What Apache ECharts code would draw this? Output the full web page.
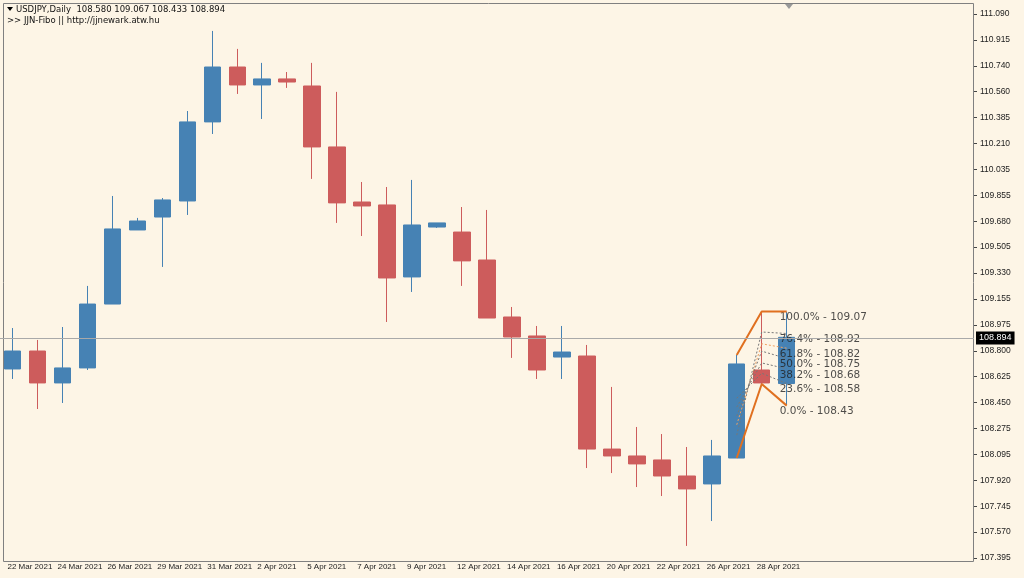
<!DOCTYPE html>
<html><head><meta charset="utf-8">
<script src="https://cdn.jsdelivr.net/npm/echarts@6/dist/echarts.min.js"></script>
<style>html,body{margin:0;padding:0;background:#fdf5e6}#c{width:1024px;height:578px}</style>
</head><body><div id="c"></div>
<script>
const dates=["22 Mar 2021","23 Mar 2021","24 Mar 2021","25 Mar 2021","26 Mar 2021","28 Mar 2021","29 Mar 2021","30 Mar 2021","31 Mar 2021","1 Apr 2021","2 Apr 2021","4 Apr 2021","5 Apr 2021","6 Apr 2021","7 Apr 2021","8 Apr 2021","9 Apr 2021","11 Apr 2021","12 Apr 2021","13 Apr 2021","14 Apr 2021","15 Apr 2021","16 Apr 2021","19 Apr 2021","20 Apr 2021","21 Apr 2021","22 Apr 2021","23 Apr 2021","26 Apr 2021","27 Apr 2021","28 Apr 2021","29 Apr 2021"];
const opens =[108.679,108.801,108.584,108.686,109.120,109.623,109.711,109.820,110.357,110.730,110.608,110.649,110.601,110.187,109.813,109.793,109.304,109.643,109.609,109.419,109.032,108.903,108.760,108.767,108.135,108.088,108.061,107.952,107.898,108.074,108.672,108.580];
const closes=[108.801,108.584,108.686,109.120,109.630,109.684,109.827,110.357,110.730,110.608,110.649,110.628,110.187,109.807,109.786,109.297,109.657,109.671,109.413,109.025,108.896,108.672,108.794,108.135,108.088,108.034,107.952,107.864,108.088,108.713,108.584,108.894];
const lows  =[108.611,108.407,108.448,108.672,109.120,109.623,109.372,109.725,110.275,110.547,110.377,110.588,109.970,109.671,109.582,108.998,109.202,109.637,109.243,109.025,108.754,108.611,108.611,108.006,107.972,107.877,107.816,107.477,107.646,108.074,108.577,108.433];
const highs =[108.957,108.876,108.964,109.243,109.854,109.705,109.840,110.431,110.975,110.853,110.758,110.696,110.758,110.561,109.949,109.915,109.963,109.671,109.779,109.759,109.100,108.971,108.971,108.842,108.557,108.285,108.237,108.149,108.197,108.774,109.070,109.067];
const yTicks=["107.395","107.570","107.745","107.920","108.095","108.275","108.450","108.625","108.800","108.975","109.155","109.330","109.505","109.680","109.855","110.035","110.210","110.385","110.560","110.740","110.915","111.090"];
const fiboLevels=[109.07,108.92,108.82,108.75,108.68,108.58,108.43];
const fiboNames=["100.0%","76.4%","61.8%","50.0%","38.2%","23.6%","0.0%"];
const fanStart=[108.23,108.30,108.36,108.42,108.48];
const fanMid=[108.93,108.85,108.80,108.72,108.65];
const lastPrice=108.894;

const pad=7;
const cats=dates.concat(Array(pad).fill(""));
const ohlc=opens.map((o,i)=>[o,closes[i],lows[i],highs[i]]);
const yMin=107.395,yMax=111.09,yInt=(yMax-yMin)/21;
const font='Liberation Sans';
const series=[{
 type:'candlestick',data:ohlc,barWidth:17,clip:true,
 itemStyle:{color:'#4682b4',color0:'#cd5c5c',borderColor:'#4682b4',borderColor0:'#cd5c5c',borderWidth:1},
 markLine:{silent:true,symbol:'none',lineStyle:{color:'#a9a9a9',type:'solid',width:1},
   label:{position:'end',distance:2,formatter:lastPrice.toFixed(3),backgroundColor:'#000',color:'#fff',fontSize:9,fontFamily:font,padding:[2,3]},
   data:[{yAxis:lastPrice}]}
}];
series.push({type:'line',data:[[29,highs[29]],[30,fiboLevels[0]],[31,fiboLevels[0]]],symbol:'none',lineStyle:{color:'#e07020',width:2}});
series.push({type:'line',data:[[29,lows[29]],[30,lows[30]],[31,fiboLevels[6]]],symbol:'none',lineStyle:{color:'#e07020',width:2}});
for(let i=0;i<5;i++){
 series.push({type:'line',data:[[29,fanStart[i]],[30,fanMid[i]],[31,fiboLevels[i+1]]],symbol:'none',
  lineStyle:{color:i==1?'#f0a060':'#777',width:1,type:[2,2]}});
}
series.push({type:'scatter',symbolSize:0,data:fiboLevels.map((v,i)=>[31,v,fiboNames[i]+' - '+v.toFixed(2)]),
 label:{show:true,position:'right',distance:0,offset:[-7,6],formatter:p=>p.data[2],color:'#222',fontSize:10.5,fontFamily:'DejaVu Sans'}});
const chart=echarts.init(document.getElementById('c'));
chart.setOption({
 backgroundColor:'#fdf5e6',animation:false,
 grid:{left:-4.5,right:50,top:14,bottom:20},
 xAxis:{type:'category',data:cats,boundaryGap:true,
  axisLine:{show:false},axisTick:{show:false},
  axisLabel:{interval:1,showMinLabel:true,hideOverlap:false,align:'left',margin:5,fontSize:8,fontFamily:font,color:'#222',padding:[0,0,0,-5]}},
 yAxis:{type:'value',position:'right',min:yMin,max:yMax,interval:yInt,splitLine:{show:false},
  axisLine:{show:false},axisTick:{show:true,inside:false,length:3,lineStyle:{color:'#444'}},
  axisLabel:{margin:6,fontSize:8.5,fontFamily:font,color:'#222',formatter:(v)=>{let k=Math.round((v-yMin)/yInt);return yTicks[k]||'';}}},
 graphic:[
  {type:'rect',shape:{x:3.5,y:3.5,width:970,height:558},style:{fill:'none',stroke:'#808080',lineWidth:1},z:-1},
  {type:'polygon',shape:{points:[[785,4],[793,4],[789,9]]},style:{fill:'#999'}},
  {type:'polygon',shape:{points:[[7,7],[13,7],[10,11]]},style:{fill:'#000'}},
  {type:'text',left:16,top:5,style:{text:'USDJPY,Daily  108.580 109.067 108.433 108.894',font:'8.5px DejaVu Sans',fill:'#111'}},
  {type:'text',left:7,top:16,style:{text:'>> JJN-Fibo || http://jjnewark.atw.hu',font:'8.5px DejaVu Sans',fill:'#111'}}
 ],
 series
});
</script></body></html>
